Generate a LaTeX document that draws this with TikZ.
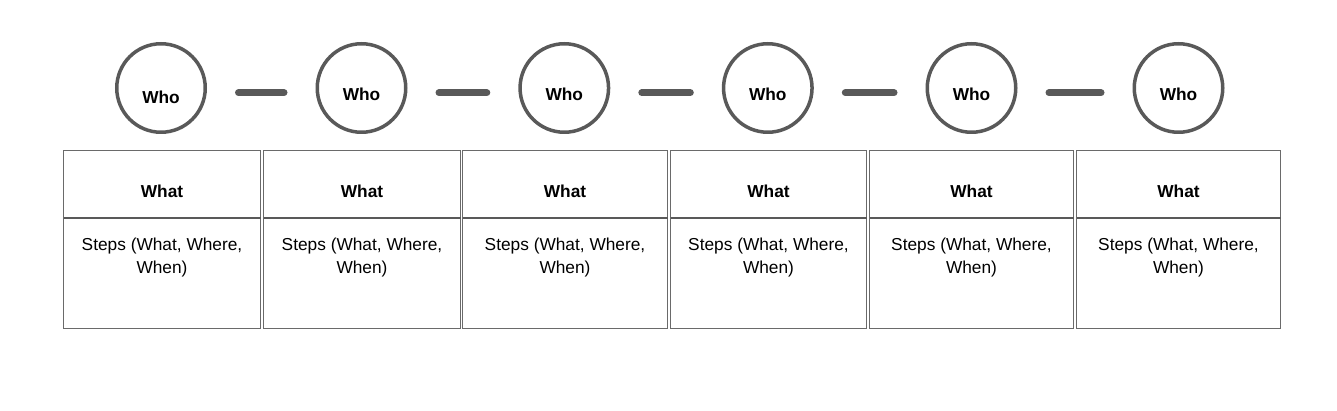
\documentclass[tikz,border=0pt]{standalone}
\usepackage{fontspec}
\setmainfont{Liberation Sans}
\definecolor{ringgray}{HTML}{595959}
\definecolor{boxgray}{HTML}{6A6A6A}
\begin{document}
\begin{tikzpicture}[x=1pt,y=-1pt,
  ring/.style={circle, draw=ringgray, line width=3.5pt, minimum size=88.5pt, inner sep=0pt},
  whotext/.style={anchor=base, inner sep=0pt, font=\fontsize{17.3}{20}\selectfont\bfseries},
  link/.style={draw=ringgray, line width=7pt, line cap=round, shorten >=31.5pt, shorten <=31.5pt},
  cell/.style={rectangle, draw=boxgray, line width=1pt, inner sep=0pt, outer sep=0pt},
  divider/.style={draw=ringgray, line width=2pt},
  whattext/.style={anchor=base, inner sep=0pt, font=\fontsize{17.3}{20}\selectfont\bfseries},
  stepstext/.style={anchor=north, inner sep=0pt, align=center, font=\fontsize{17.3}{23}\selectfont}
]
\useasboundingbox (0,0) rectangle (1337,411);
% circles
\foreach \i/\cx in {1/161,2/361.5,3/564.3,4/767.8,5/971.5,6/1178.5}{
  \node[ring] (c\i) at (\cx,88) {};
}
\node[whotext] (w1) at (161,103.4) {Who};
\foreach \i/\cx in {2/361.5,3/564.3,4/767.8,5/971.5,6/1178.5}{
  \node[whotext] (w\i) at (\cx,100.3) {Who};
}
% links
\foreach \a/\b in {1/2,2/3,3/4,4/5,5/6}{
  \draw[link] ([yshift=-4.7pt]c\a.east) -- ([yshift=-4.7pt]c\b.west);
}
% boxes
\foreach \i/\cx/\w in {1/162/197,2/362/197,3/565/205,4/768.5/196,5/971.5/204,6/1178.5/204}{
  \node[cell, minimum width=\w pt, minimum height=67.5pt] (what\i) at (\cx,184.25) {};
  \node[cell, minimum width=\w pt, minimum height=110.5pt] (steps\i) at (\cx,273.25) {};
  \draw[divider] (what\i.south west) -- (what\i.south east);
  \node[whattext] (wt\i) at (\cx,197.6) {What};
  \node[stepstext] (st\i) at (\cx,237.8) {Steps (What, Where,\\When)};
}
\end{tikzpicture}
\end{document}
